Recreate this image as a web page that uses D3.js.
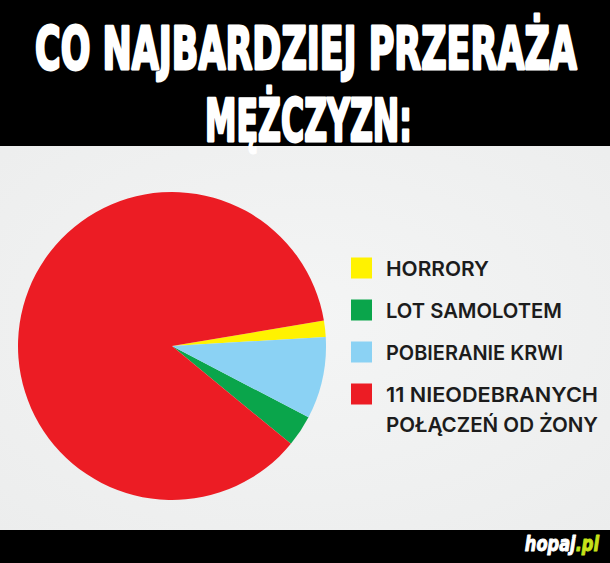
<!DOCTYPE html>
<html>
<head>
<meta charset="utf-8">
<script src="https://cdn.jsdelivr.net/npm/d3@7"></script>
<style>
  html, body { margin: 0; padding: 0; background: #000; }
  svg { display: block; }
</style>
</head>
<body>
<svg id="chart" width="610" height="563"></svg>
<script>
// ---- data ----
const titleLines = ["CO NAJBARDZIEJ PRZERAŻA", "MĘŻCZYZN:"];
const categories = ["HORRORY", "LOT SAMOLOTEM", "POBIERANIE KRWI", "11 NIEODEBRANYCH|POŁĄCZEŃ OD ŻONY"];
const values = [1.7, 3.3, 8.6, 86.4];
const sliceOrder = [0, 2, 1, 3]; // clockwise order of slices in the pie
const palette = ["#fff200", "#0aa54b", "#8bd2f4", "#ec1c24"];
const footerWords = ["hopaj", ".pl"];

// ---- layout ----
const W = 610, H = 563;
const svg = d3.select("#chart");

// backgrounds
svg.append("rect").attr("x", 0).attr("y", 0).attr("width", W).attr("height", H).attr("fill", "#000");
const defs = svg.append("defs");
const grad = defs.append("radialGradient").attr("id", "bg").attr("cx", "50%").attr("cy", "45%").attr("r", "75%");
grad.append("stop").attr("offset", "0%").attr("stop-color", "#f4f5f5");
grad.append("stop").attr("offset", "100%").attr("stop-color", "#eceded");
svg.append("rect").attr("x", 0).attr("y", 146).attr("width", W).attr("height", 384).attr("fill", "url(#bg)");

// title: condensed horizontally by a measured transform to fit target width
const titleFont = "'Liberation Sans Narrow', 'DejaVu Sans Condensed', sans-serif";
const titleSpecs = [
  { text: titleLines[0], x: 35, y: 69, len: 542 },
  { text: titleLines[1], x: 205, y: 141, len: 207 }
];
svg.selectAll("text.title").data(titleSpecs).join("text")
  .attr("class", "title")
  .attr("x", 0).attr("y", 0)
  .attr("font-family", titleFont).attr("font-weight", "bold")
  .attr("font-size", 59)
  .attr("fill", "#fff").attr("stroke", "#fff").attr("stroke-width", 2.8)
  .attr("stroke-linejoin", "round")
  .text(d => d.text)
  .each(function(d) {
    const w = this.getComputedTextLength() || d.len;
    d3.select(this).attr("transform", `translate(${d.x},${d.y}) scale(${d.len / w},1)`);
  });

// pie
const cx = 172, cy = 346, R = 154;
const startDeg = 80.5;
const color = d3.scaleOrdinal().domain(d3.range(categories.length)).range(palette);
const pie = d3.pie()
  .value(d => d.v)
  .sort((a, b) => sliceOrder.indexOf(a.i) - sliceOrder.indexOf(b.i))
  .startAngle(startDeg * Math.PI / 180)
  .endAngle(startDeg * Math.PI / 180 + 2 * Math.PI);
const arcs = pie(values.map((v, i) => ({ v, i })));
const arc = d3.arc().innerRadius(0).outerRadius(R);
svg.append("g").attr("transform", `translate(${cx},${cy})`)
  .selectAll("path").data(arcs).join("path")
  .attr("d", arc)
  .attr("fill", d => color(d.data.i));

// legend
const legendFont = "Inter, 'Open Sans', sans-serif";
const rowY = d3.scalePoint().domain(d3.range(categories.length)).range([268, 394]);
const leg = svg.append("g");
const items = leg.selectAll("g").data(categories.map((c, i) => ({ c, i }))).join("g")
  .attr("transform", d => `translate(0,${rowY(d.i)})`);
items.append("rect")
  .attr("x", 351).attr("y", -10.5).attr("width", 21).attr("height", 21)
  .attr("fill", d => color(d.i));
const widths = { "HORRORY": 103, "LOT SAMOLOTEM": 176, "POBIERANIE KRWI": 177, "11 NIEODEBRANYCH": 212, "POŁĄCZEŃ OD ŻONY": 212 };
items.each(function(d) {
  const lines = d.c.split("|");
  d3.select(this).selectAll("text").data(lines).join("text")
    .attr("x", 386)
    .attr("y", (l, k) => 8 + k * 30)
    .attr("font-family", legendFont).attr("font-weight", 600)
    .attr("font-size", 20.5)
    .attr("fill", "#1c1c1c")
    .attr("textLength", l => widths[l] || null)
    .attr("lengthAdjust", "spacingAndGlyphs")
    .text(l => l);
});

// footer (single text element with two coloured parts, horizontally condensed)
const foot = svg.append("text")
  .attr("transform", "translate(599,551) scale(0.82,1)")
  .attr("x", 0).attr("y", 0)
  .attr("text-anchor", "end")
  .attr("font-family", titleFont).attr("font-weight", "bold").attr("font-style", "italic")
  .attr("font-size", 22)
  .attr("stroke-width", 1).attr("stroke-linejoin", "round");
foot.selectAll("tspan").data(footerWords).join("tspan")
  .attr("fill", (d, i) => i === 0 ? "#fff" : "#c6e21a")
  .attr("stroke", (d, i) => i === 0 ? "#fff" : "#c6e21a")
  .text(d => d);
</script>
</body>
</html>
